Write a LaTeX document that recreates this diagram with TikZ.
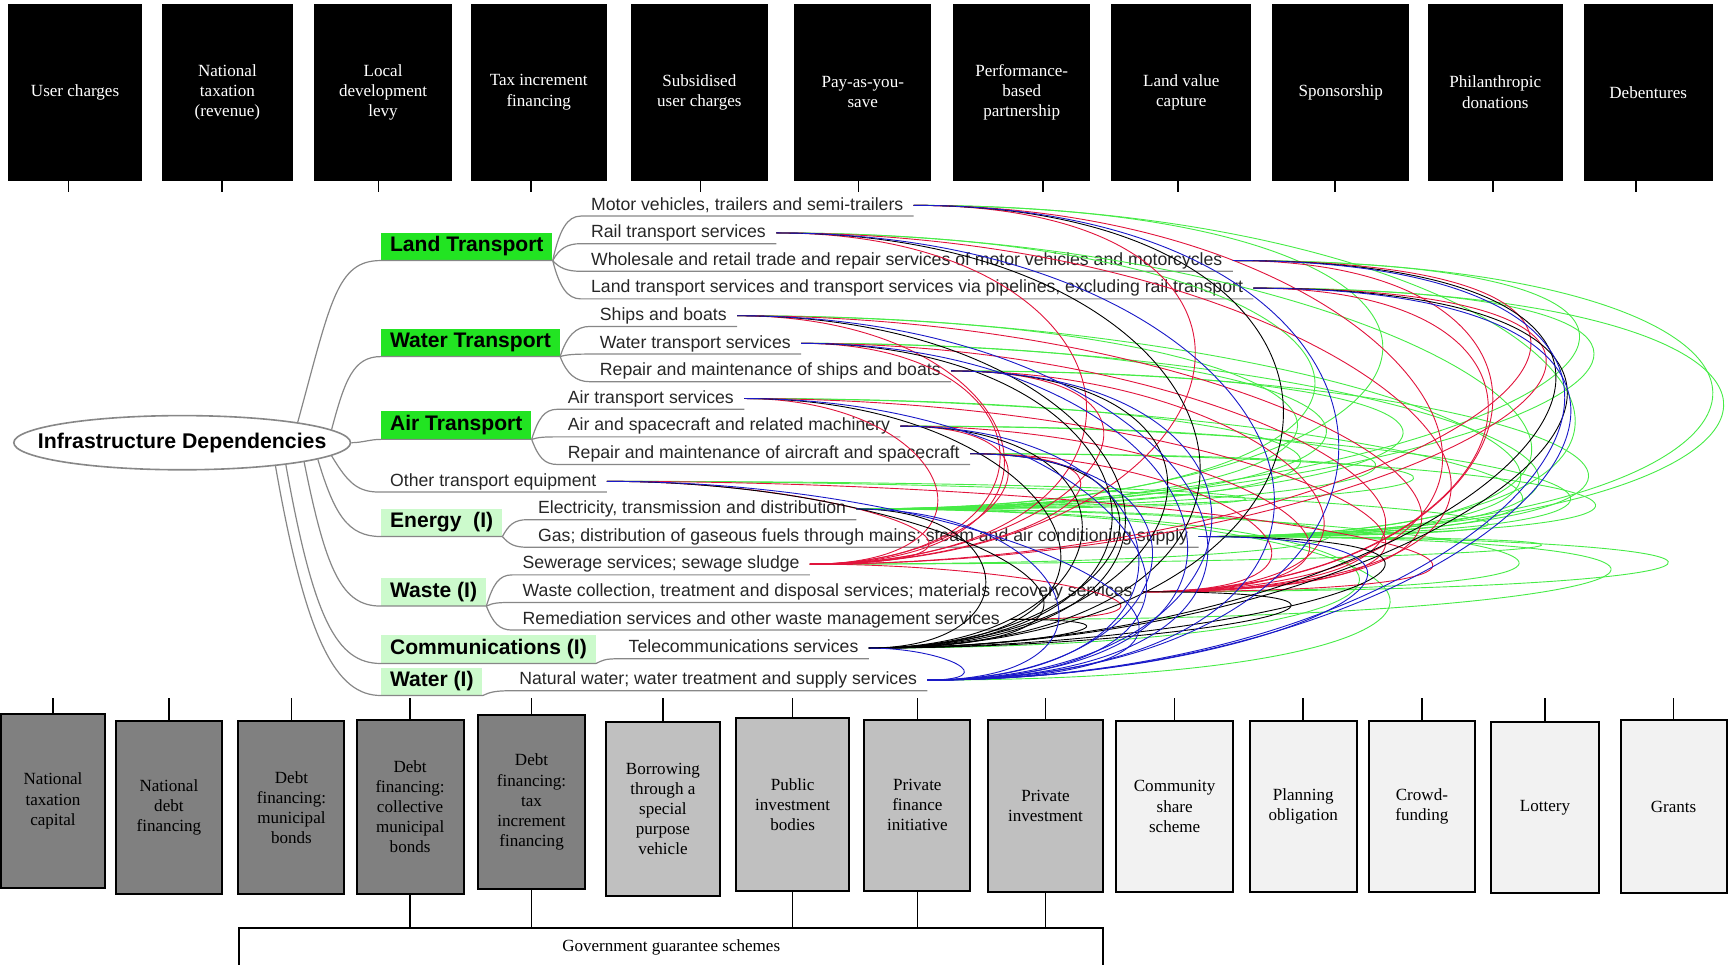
\documentclass[tikz,border=0pt]{standalone}
\usepackage{fontspec}
\setmainfont{Liberation Serif}
\setsansfont{Liberation Sans}
\usetikzlibrary{shapes.geometric}

\definecolor{catgreen}{RGB}{34,228,34}
\definecolor{paleg}{RGB}{204,250,204}
\definecolor{darkbox}{RGB}{128,128,128}
\definecolor{midbox}{RGB}{192,192,192}
\definecolor{lightbox}{RGB}{242,242,242}
\definecolor{branchgray}{RGB}{135,135,135}
\definecolor{depred}{RGB}{225,20,60}
\definecolor{depgreen}{RGB}{70,235,70}
\definecolor{depblue}{RGB}{25,25,200}

\begin{document}
\begin{tikzpicture}[
  x=0.55pt, y=-0.55pt,
  topbox/.style={fill=black, draw=black, text=white, align=center, inner sep=0pt,
    font=\fontsize{8.5}{10}\selectfont},
  srcbox/.style={draw=black, line width=1pt, align=center, inner sep=0pt,
    font=\fontsize{8.5}{10}\selectfont},
  tick/.style={line width=0.8pt},
  rootnode/.style={ellipse, draw=branchgray, line width=0.8pt, fill=white,
    minimum width=167.75pt, minimum height=27pt, inner sep=0pt,
    font=\sffamily\bfseries\fontsize{10.6}{12}\selectfont},
  cat/.style={anchor=south west, inner xsep=4.4pt, inner ysep=0pt,
    minimum height=13.75pt, font=\sffamily\bfseries\fontsize{10.5}{12}\selectfont},
  item/.style={anchor=west, inner xsep=5pt, inner ysep=1pt, text height=6.5pt,
    text depth=1.8pt, text=black!85, font=\sffamily\fontsize{8.8}{10}\selectfont},
  branch/.style={draw=branchgray, line width=0.6pt},
  dep/.style={line width=0.45pt}
]
\useasboundingbox (0,0) rectangle (1568,874);

% funding sources (top row)
\foreach \i/\xl/\xr/\dx/\txt in {1/8/128/-6/User charges, 2/147/265/-5/National\\taxation\\(revenue),
  3/285/409/-4/Local\\development\\levy, 4/427/549/-7/Tax increment\\financing,
  5/572/695/1/Subsidised\\user charges, 6/720/843/-4/Pay-as-you-\\save,
  7/864/987/19/Performance-\\based\\partnership, 8/1007/1133/-3/Land value\\capture,
  9/1153/1276/-5/Sponsorship, 10/1294/1415/-2/Philanthropic\\donations,
  11/1435/1551/-11/Debentures}{
  \node[topbox, minimum width={(\xr-\xl)*0.55pt}, minimum height=87.45pt] (t\i) at ({(\xl+\xr)/2},83.5) {\txt};
  \draw[tick] ([xshift=\dx*0.55pt]t\i.south) -- ++(0,11);
}

% financing sources (bottom row)
\foreach \i/\xl/\xr/\yt/\yb/\col/\txt in {1/1/95/647/804/darkbox/National\\taxation\\capital,
  2/105/201/653/810/darkbox/National\\debt\\financing,
  3/216/312/653/810/darkbox/Debt\\financing:\\municipal\\bonds,
  4/323/420/652/810/darkbox/Debt\\financing:\\collective\\municipal\\bonds,
  5/433/530/648/805/darkbox/Debt\\financing:\\tax\\increment\\financing,
  6/549/652/654/812/midbox/Borrowing\\through a\\special\\purpose\\vehicle,
  7/667/769/650/807/midbox/Public\\investment\\bodies,
  8/783/879/652/807/midbox/Private\\finance\\initiative,
  9/895/999/652/808/midbox/Private\\investment,
  10/1011/1117/653/808/lightbox/Community\\share\\scheme,
  11/1132/1229/653/808/lightbox/Planning\\obligation,
  12/1240/1336/653/808/lightbox/Crowd-\\funding,
  13/1351/1448/654/809/lightbox/Lottery,
  14/1468/1564/652/809/lightbox/Grants}{
  \node[srcbox, fill=\col, minimum width={(\xr-\xl)*0.55pt}, minimum height={(\yb-\yt)*0.55pt}] (b\i) at ({(\xl+\xr)/2},{(\yt+\yb)/2}) {\txt};
  \draw[tick] (b\i.north) -- (b\i.north |- 0,632);
}

\node[font=\fontsize{8.5}{10}\selectfont, minimum width=430.1pt, minimum height=18.7pt, inner sep=0pt] (gov) at (608,858) {Government guarantee schemes};
\draw[tick] (gov.south west) -- (gov.north west) -- (gov.north east) -- (gov.south east);
\foreach \i in {4,5,7,8,9}
  \draw[tick] (b\i.south) -- (b\i.south |- gov.north);

% mind map
\node[rootnode] (root) at (165,401) {\makebox[0pt]{Infrastructure Dependencies}};

\node[cat, fill=catgreen] (lt) at (345,236) {Land Transport};
\node[cat, fill=catgreen] (wt) at (345,323) {Water Transport};
\node[cat, fill=catgreen] (air) at (345,398) {Air Transport};
\node[cat, fill=paleg] (en) at (345,486) {Energy\ \ (I)};
\node[cat, fill=paleg] (ws) at (345,549) {Waste (I)};
\node[cat, fill=paleg] (cm) at (345,601) {Communications (I)};
\node[cat, fill=paleg] (wa) at (345,630) {Water (I)};

\node[item] (motor) at (526,186) {Motor vehicles, trailers and semi-trailers};
\node[item] (rail) at (526,211) {Rail transport services};
\node[item] (whole) at (526,236) {Wholesale and retail trade and repair services of motor vehicles and motorcycles};
\node[item] (landts) at (526,261) {Land transport services and transport services via pipelines, excluding rail transport};
\node[item] (ships) at (534,286) {Ships and boats};
\node[item] (wts) at (534,311) {Water transport services};
\node[item] (rms) at (534,336) {Repair and maintenance of ships and boats};
\node[item] (ats) at (505,361) {Air transport services};
\node[item] (asm) at (505,386) {Air and spacecraft and related machinery};
\node[item] (rma) at (505,411) {Repair and maintenance of aircraft and spacecraft};
\node[item] (other) at (344,436) {Other transport equipment};
\node[item] (elec) at (478,461) {Electricity, transmission and distribution};
\node[item] (gas) at (478,486) {Gas; distribution of gaseous fuels through mains; steam and air conditioning supply};
\node[item] (sew) at (464,511) {Sewerage services; sewage sludge};
\node[item] (wcol) at (464,536) {Waste collection, treatment and disposal services; materials recovery services};
\node[item] (rem) at (464,561) {Remediation services and other waste management services};
\node[item] (tel) at (560,587) {Telecommunications services};
\node[item] (nw) at (461,616) {Natural water; water treatment and supply services};

% root to categories
\draw[branch] (root.10) .. controls +(30,-110) and +(-40,0) .. (lt.south west) -- (lt.south east);
\draw[branch] (root.5) .. controls +(12,-45) and +(-25,0) .. (wt.south west) -- (wt.south east);
\draw[branch] (root.east) .. controls +(10,0) and +(-10,0) .. (air.south west) -- (air.south east);
\draw[branch] (root.355) .. controls +(15,25) and +(-20,0) .. (other.south west) -- (other.south east);
\draw[branch] (root.353) .. controls +(15,50) and +(-30,0) .. (en.south west) -- (en.south east);
\draw[branch] (root.351) .. controls +(20,100) and +(-35,0) .. (ws.south west) -- (ws.south east);
\draw[branch] (root.348) .. controls +(25,140) and +(-40,0) .. (cm.south west) -- (cm.south east);
\draw[branch] (root.346) .. controls +(28,160) and +(-40,0) .. (wa.south west) -- (wa.south east);

% categories to items
\foreach \ch/\dy in {motor/-28, rail/-11, whole/7, landts/24}
  \draw[branch] (lt.south east) .. controls +(6,\dy) and +(-12,0) .. (\ch.south west) -- (\ch.south east);
\foreach \ch/\dy in {ships/-19, wts/-2, rms/16}
  \draw[branch] (wt.south east) .. controls +(6,\dy) and +(-12,0) .. (\ch.south west) -- (\ch.south east);
\foreach \ch/\dy in {ats/-19, asm/-2, rma/16}
  \draw[branch] (air.south east) .. controls +(6,\dy) and +(-12,0) .. (\ch.south west) -- (\ch.south east);
\foreach \ch/\dy in {elec/-11, gas/7}
  \draw[branch] (en.south east) .. controls +(6,\dy) and +(-12,0) .. (\ch.south west) -- (\ch.south east);
\foreach \ch/\dy in {sew/-20, wcol/-3, rem/15}
  \draw[branch] (ws.south east) .. controls +(6,\dy) and +(-12,0) .. (\ch.south west) -- (\ch.south east);
\draw[branch] (cm.south east) .. controls +(6,-3) and +(-12,0) .. (tel.south west) -- (tel.south east);
\draw[branch] (wa.south east) .. controls +(6,-3) and +(-12,0) .. (nw.south west) -- (nw.south east);

% dependencies
\foreach \tg in {motor,rail,whole,landts,ships,wts,rms,ats,asm,rma,other,sew,wcol,tel,nw}
  \draw[dep, depgreen] (\tg.east) .. controls +(600,0) and +(600,0) .. (elec.east);
\foreach \tg in {motor,rail,whole,landts,ships,wts,rms,ats,asm,rma,other,sew,wcol,rem}
  \draw[dep, depgreen] (\tg.east) .. controls +(600,0) and +(600,0) .. (gas.east);
\foreach \tg in {motor,rail,whole,landts,ships,wts,rms,ats,asm,rma,other,rem}
  \draw[dep, depred] (\tg.east) to[out=0,in=0,looseness=3] (sew.east);
\foreach \tg in {motor,rail,whole,landts,ships,wts,rms,ats,asm,rma,other}
  \draw[dep, depred] (\tg.east) to[out=0,in=0,looseness=3] (wcol.east);
\foreach \tg in {motor,rail,whole,landts,ships,wts,rms,ats,asm,rma,other,elec,gas,wcol,rem}
  \draw[dep, black] (\tg.east) to[out=0,in=0,looseness=3] (tel.east);
\foreach \tg in {motor,rail,whole,landts,ships,wts,rms,ats,asm,rma,other,elec,gas,tel}
  \draw[dep, depblue] (\tg.east) to[out=0,in=0,looseness=3] (nw.east);
\end{tikzpicture}
\end{document}
